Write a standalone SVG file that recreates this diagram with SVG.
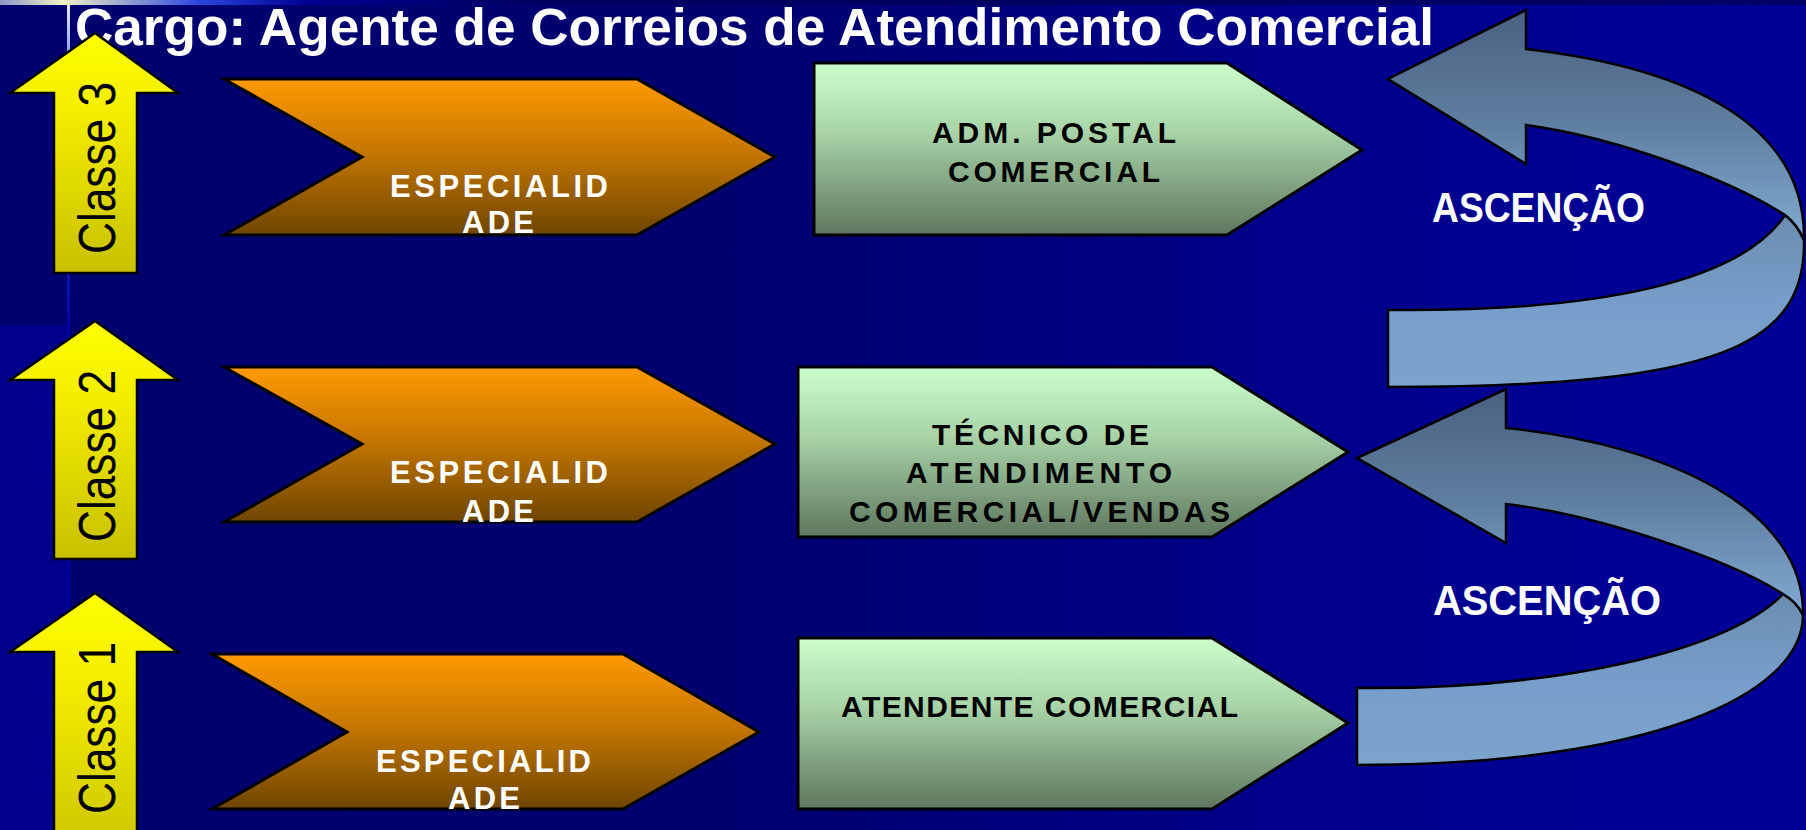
<svg xmlns="http://www.w3.org/2000/svg" width="1806" height="830" viewBox="0 0 1806 830">
<defs>
<linearGradient id="bg" x1="0" y1="0" x2="1806" y2="0" gradientUnits="userSpaceOnUse">
<stop offset="0" stop-color="#00006E"/>
<stop offset="0.45" stop-color="#000072"/>
<stop offset="0.72" stop-color="#00008C"/>
<stop offset="1" stop-color="#000099"/>
</linearGradient>
<linearGradient id="topbar" x1="0" y1="0" x2="1806" y2="0" gradientUnits="userSpaceOnUse">
<stop offset="0" stop-color="#8C96C8"/>
<stop offset="0.035" stop-color="#F2F2C4"/>
<stop offset="0.11" stop-color="#2A46E0"/>
<stop offset="0.17" stop-color="#000090"/>
<stop offset="0.3" stop-color="#000060"/>
<stop offset="1" stop-color="#000064"/>
</linearGradient>
<linearGradient id="vline" x1="0" y1="0" x2="0" y2="1">
<stop offset="0" stop-color="#E8ECF8"/>
<stop offset="0.12" stop-color="#3050D8"/>
<stop offset="0.4" stop-color="#0000A8"/>
<stop offset="1" stop-color="#00009C"/>
</linearGradient>
<linearGradient id="yel" x1="0" y1="0" x2="0" y2="1">
<stop offset="0" stop-color="#FFFF00"/>
<stop offset="0.35" stop-color="#F2EC00"/>
<stop offset="1" stop-color="#C8C000"/>
</linearGradient>
<linearGradient id="org" x1="0" y1="0" x2="0" y2="1">
<stop offset="0" stop-color="#FF9A00"/>
<stop offset="0.45" stop-color="#C87800"/>
<stop offset="1" stop-color="#6E4500"/>
</linearGradient>
<linearGradient id="grn" x1="0" y1="0" x2="0" y2="1">
<stop offset="0" stop-color="#CCFFCC"/>
<stop offset="0.4" stop-color="#A8D4A8"/>
<stop offset="1" stop-color="#5E765E"/>
</linearGradient>
<linearGradient id="bandA" x1="0" y1="0" x2="0" y2="1">
<stop offset="0" stop-color="#4A6080"/>
<stop offset="0.5" stop-color="#5F7FA0"/>
<stop offset="1" stop-color="#82AAD4"/>
</linearGradient>
<linearGradient id="bandB" x1="0" y1="0" x2="0" y2="1">
<stop offset="0" stop-color="#6A8CB0"/>
<stop offset="0.5" stop-color="#779ECA"/>
<stop offset="1" stop-color="#7BA3CB"/>
</linearGradient>
</defs>
<style>
.yarrow{fill:url(#yel);stroke:#000;stroke-width:2.5;stroke-linejoin:miter}
.chev{fill:url(#org);stroke:#000;stroke-width:3;stroke-linejoin:miter}
.pent{fill:url(#grn);stroke:#000;stroke-width:3;stroke-linejoin:miter}
.bandA{fill:url(#bandA);stroke:#000;stroke-width:2.5;stroke-linejoin:miter}
.bandB{fill:url(#bandB);stroke:#000;stroke-width:2.5;stroke-linejoin:miter}
.cls{font-family:"Liberation Sans",Arial,sans-serif;font-size:52px;fill:#000}
.otx{font-family:"Liberation Sans",Arial,sans-serif;font-size:31px;font-weight:bold;fill:#fff}
.gtx{font-family:"Liberation Sans",Arial,sans-serif;font-size:30px;font-weight:bold;fill:#000}
.asc{font-family:"Liberation Sans",Arial,sans-serif;font-size:43px;font-weight:bold;fill:#fff}
.title{font-family:"Liberation Sans",Arial,sans-serif;font-size:51px;font-weight:bold;fill:#fff}
</style>

<g id="background">
<rect x="0" y="0" width="1806" height="830" fill="url(#bg)"/>
<rect x="0" y="325" width="68" height="505" fill="#00008A"/>
<rect x="0" y="0" width="1806" height="5" fill="url(#topbar)"/>
<rect x="67" y="5" width="3" height="825" fill="url(#vline)"/>
</g>

<g id="title">
<text class="title" x="75" y="45" textLength="1359" lengthAdjust="spacingAndGlyphs">Cargo: Agente de Correios de Atendimento Comercial</text>
</g>

<g id="classe3">
<polygon class="yarrow" points="95,33 178,93 137,93 137,273 54,273 54,93 10,93"/>
<text class="cls" transform="translate(115,254) rotate(-90)" x="0" y="0" textLength="172" lengthAdjust="spacingAndGlyphs">Classe 3</text>
</g>
<g id="classe2">
<polygon class="yarrow" points="95,321 178,380 137,380 137,559 54,559 54,380 10,380"/>
<text class="cls" transform="translate(115,542) rotate(-90)" x="0" y="0" textLength="172" lengthAdjust="spacingAndGlyphs">Classe 2</text>
</g>
<g id="classe1">
<polygon class="yarrow" points="95,593 178,652 137,652 137,870 54,870 54,652 10,652"/>
<text class="cls" transform="translate(115,814) rotate(-90)" x="0" y="0" textLength="172" lengthAdjust="spacingAndGlyphs">Classe 1</text>
</g>

<g id="especialidade3">
<polygon class="chev" points="224,79 637,79 775,157 637,235 224,235 362,157"/>
<text class="otx" x="390" y="197" textLength="218" lengthAdjust="spacing">ESPECIALID</text>
<text class="otx" x="462" y="233" textLength="72" lengthAdjust="spacing">ADE</text>
</g>
<g id="especialidade2">
<polygon class="chev" points="224,367 637,367 775,444 637,522 224,522 362,444"/>
<text class="otx" x="390" y="483" textLength="218" lengthAdjust="spacing">ESPECIALID</text>
<text class="otx" x="462" y="522" textLength="72" lengthAdjust="spacing">ADE</text>
</g>
<g id="especialidade1">
<polygon class="chev" points="212,654 623,654 759,732 623,809 212,809 347,732"/>
<text class="otx" x="376" y="772" textLength="215" lengthAdjust="spacing">ESPECIALID</text>
<text class="otx" x="448" y="809" textLength="72" lengthAdjust="spacing">ADE</text>
</g>

<g id="adm-postal-comercial">
<polygon class="pent" points="814,63 1227,63 1362,150 1227,235 814,235"/>
<text class="gtx" x="932" y="143" textLength="244" lengthAdjust="spacing">ADM. POSTAL</text>
<text class="gtx" x="948" y="182" textLength="212" lengthAdjust="spacing">COMERCIAL</text>
</g>
<g id="tecnico-atendimento">
<polygon class="pent" points="798,367 1212,367 1348,452 1212,537 798,537"/>
<text class="gtx" x="932" y="445" textLength="217" lengthAdjust="spacing">TÉCNICO DE</text>
<text class="gtx" x="906" y="483" textLength="266" lengthAdjust="spacing">ATENDIMENTO</text>
<text class="gtx" x="849" y="522" textLength="381" lengthAdjust="spacing">COMERCIAL/VENDAS</text>
</g>
<g id="atendente-comercial">
<polygon class="pent" points="798,638 1212,638 1348,723 1212,809 798,809"/>
<text class="gtx" x="841" y="717" textLength="397" lengthAdjust="spacing">ATENDENTE COMERCIAL</text>
</g>

<g id="connectors">
<g id="ascencao-2-3">
<path class="bandB" d="M1388,310 C1600,312 1740,282 1785,215 Q1797,224 1804,240 C1806,345 1720,387 1388,387 Z"/>
<path class="bandA" d="M1388,79 L1526,10 L1526,49 C1690,68 1806,125 1804,240 Q1797,224 1785,215 C1730,180 1620,138 1526,125 L1526,164 Z"/>
<text class="asc" x="1432" y="222" textLength="213" lengthAdjust="spacingAndGlyphs">ASCENÇÃO</text>
</g>
<g id="ascencao-1-2">
<path class="bandB" d="M1357,688 C1560,690 1730,650 1783,594 Q1797,602 1803,615 C1803,695 1650,765 1357,765 Z"/>
<path class="bandA" d="M1357,458 L1506,389 L1506,428 C1670,445 1805,510 1803,615 Q1797,602 1783,594 C1730,560 1600,515 1506,504 L1506,543 Z"/>
<text class="asc" x="1433" y="615" textLength="228" lengthAdjust="spacingAndGlyphs">ASCENÇÃO</text>
</g>
</g>
</svg>
